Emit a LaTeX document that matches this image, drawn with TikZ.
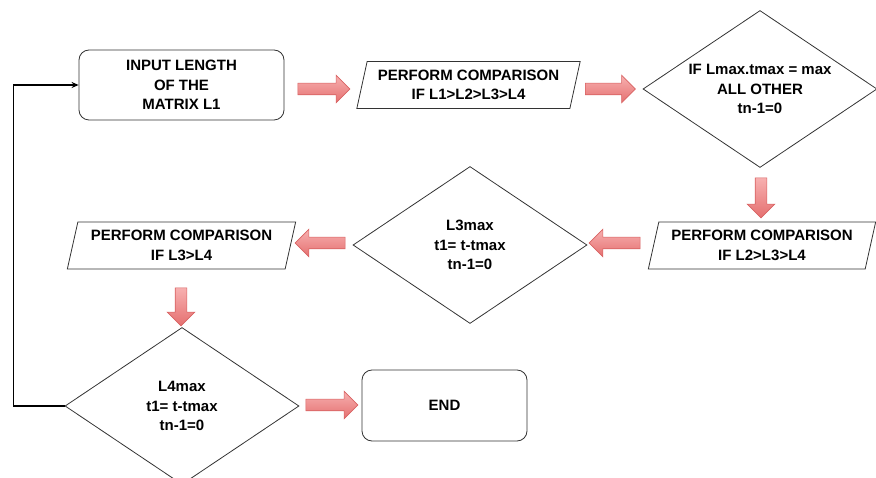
\documentclass[tikz,border=0pt]{standalone}
\usepackage{fontspec}
\setmainfont{Liberation Sans}
\usetikzlibrary{shapes.geometric,shapes.arrows,arrows.meta}

\definecolor{outline}{HTML}{333333}
\definecolor{arrowtop}{HTML}{F7B0B0}
\definecolor{arrowbot}{HTML}{E57070}
\definecolor{arrowedge}{HTML}{D86262}

\tikzset{
  txt/.style={font=\bfseries\fontsize{15}{19.5}\selectfont, align=center, text=black},
  terminal/.style={txt, draw=outline, line width=0.8pt, rounded corners=10pt, fill=white},
  io/.style={txt, trapezium, trapezium left angle=73, trapezium right angle=107,
    trapezium stretches=true, draw=outline, line width=0.8pt, inner sep=0pt,
    minimum height=47pt},
  decision/.style={diamond, draw=outline, line width=0.8pt, inner sep=0pt,
    minimum width=234pt, minimum height=157pt},
  blockarrow/.style={single arrow, draw=arrowedge, line width=0.6pt,
    top color=arrowtop, bottom color=arrowbot, inner xsep=0pt, inner ysep=5.5pt,
    minimum width=27pt, single arrow head extend=8pt, single arrow tip angle=90},
  flow/.style={draw=black, line width=1.3pt, -{Stealth[length=7pt,width=6pt]}}
}

\begin{document}
\begin{tikzpicture}[x=1pt, y=-1pt]
  \useasboundingbox (0,0) rectangle (876,478);

  % process blocks
  \node[terminal, minimum width=205pt, minimum height=70pt] (inbox) at (181.5,85)
    {INPUT LENGTH\\OF THE\\MATRIX L1};
  \node[io, minimum width=224pt] (p1) at (468.5,85)
    {PERFORM COMPARISON\\IF L1>L2>L3>L4};
  \node[decision, label={[txt]center:{IF Lmax.tmax = max\\ALL OTHER\\tn-1=0}}] (d1) at (760,89) {};
  \node[io, minimum width=228pt] (p2) at (762,245.5)
    {PERFORM COMPARISON\\IF L2>L3>L4};
  \node[decision, label={[txt]center:{L3max\\t1= t-tmax\\tn-1=0}}] (d2) at (470,245) {};
  \node[io, minimum width=229pt] (p3) at (181.5,245.5)
    {PERFORM COMPARISON\\IF L3>L4};
  \node[decision, label={[txt]center:{L4max\\t1= t-tmax\\tn-1=0}}] (d3) at (182,406) {};
  \node[terminal, minimum width=165pt, minimum height=71pt] (end) at (444.5,405.5) {END};

  % block arrows between the steps
  \node[blockarrow, minimum height=52pt] (a1) at (321,89) {};
  \node[blockarrow, minimum height=50pt] (a2) at (607.5,89) {};
  \node[blockarrow, minimum height=40pt, rotate=-90] (a3) at (761,195) {};
  \node[blockarrow, minimum height=51pt, rotate=180] (a4) at (617.5,243) {};
  \node[blockarrow, minimum height=50pt, rotate=180] (a5) at (323,243) {};
  \node[blockarrow, minimum height=38pt, rotate=-90] (a6) at (181,304) {};
  \node[blockarrow, minimum height=52pt] (a7) at (329,405) {};

  % loop back to the input
  \draw[flow] (d3.west) -- ++(-51,0) |- (inbox.west);
\end{tikzpicture}
\end{document}
